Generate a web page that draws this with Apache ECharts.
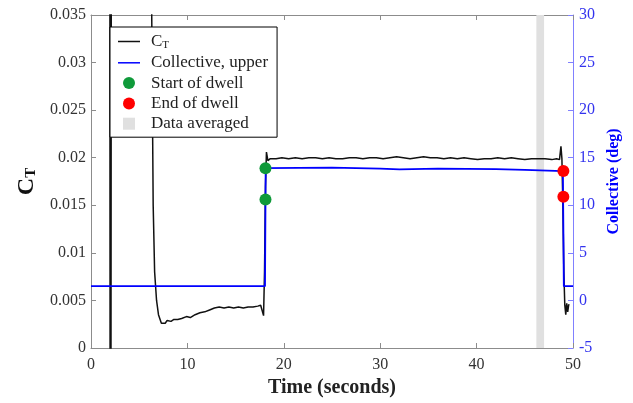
<!DOCTYPE html>
<html>
<head>
<meta charset="utf-8">
<script src="https://cdn.jsdelivr.net/npm/echarts@6/dist/echarts.min.js"></script>
<style>
html,body{margin:0;padding:0;background:#fff;}
#chart{width:633px;height:403px;}
</style>
</head>
<body>
<div id="chart"></div>
<script>
// ---- Data ----
const ctTime = [1.95,1.98,2.03,2.07,2.12,6.2,6.3,6.45,6.6,6.8,7.0,7.3,7.5,7.7,7.9,8.3,8.6,9.0,9.4,9.9,10.3,10.8,11.3,11.8,12.3,12.8,13.3,13.8,14.3,14.8,15.3,15.8,16.3,16.8,17.3,17.6,17.75,17.9,18.0,18.1,18.2,18.35,18.6,19.2,
  19.8,20.5,21.2,21.9,22.6,23.3,24.0,24.7,25.4,26.1,26.8,27.5,28.2,28.9,29.6,30.3,31.0,31.7,32.4,33.1,33.8,34.5,35.2,35.9,36.6,37.3,38.0,38.7,39.4,40.1,40.8,41.5,42.2,42.9,43.6,44.3,45.0,45.7,46.4,47.1,47.8,48.3,48.6,48.75,48.85,48.95,49.05,49.15,49.25,49.35,49.45,49.55,49.6];
const ctValue = [0.06,-0.005,0.06,-0.005,0.06,0.06,0.035,0.015,0.008,0.005,0.0035,0.0026,0.0024,0.0026,0.0029,0.0028,0.0030,0.0030,0.0031,0.0033,0.0032,0.0035,0.0037,0.0038,0.0040,0.0042,0.0043,0.0042,0.0043,0.0042,0.0043,0.0042,0.0043,0.0043,0.0044,0.0045,0.0043,0.0034,0.0080,0.0170,0.0206,0.0197,0.0199,0.0199,
  0.0200,0.0199,0.0200,0.0199,0.0200,0.0200,0.0199,0.0200,0.0199,0.0199,0.0200,0.0200,0.0199,0.0200,0.0200,0.0199,0.0200,0.0201,0.0200,0.0199,0.0200,0.0201,0.0200,0.0200,0.0199,0.0200,0.0199,0.0200,0.0199,0.0198,0.0199,0.0199,0.0200,0.0199,0.0200,0.0199,0.0198,0.0199,0.0199,0.0199,0.0198,0.0199,0.0198,0.0212,0.0199,0.0150,0.0080,0.0045,0.0035,0.0047,0.0038,0.0045,0.0046];

const collTime  = [0, 18.05, 18.12, 25, 30, 32, 36, 42, 45, 48.95, 49.05, 50];
const collValue = [1.5, 1.5, 13.9, 13.95, 13.85, 13.78, 13.85, 13.8, 13.72, 13.6, 1.5, 1.5];

const startTime  = [18.1, 18.1];
const startValue = [13.9, 10.6];
const endTime    = [49.0, 49.0];
const endValue   = [13.6, 10.9];

const avgRange = [46.2, 47.0];

const xTicks = [0, 10, 20, 30, 40, 50];
const seriesNames = ['C_T', 'Collective, upper', 'Start of dwell', 'End of dwell', 'Data averaged'];

// ---- Build ----
const zip = (a, b) => a.map((v, i) => [v, b[i]]);
const FONT = '"Liberation Serif", "Times New Roman", serif';
const chart = echarts.init(document.getElementById('chart'), null, {renderer: 'canvas'});

const LINE_ICON = 'path://M0,0H44V3H0Z';

const option = {
  animation: false,
  backgroundColor: '#fff',
  grid: {left: 91, right: 60, top: 15, bottom: 55, containLabel: false},
  legend: {
    orient: 'vertical',
    left: 110, top: 27,
    padding: [6, 9, 5, 8],
    itemGap: 3.3,
    itemWidth: 22, itemHeight: 12,
    borderColor: '#000', borderWidth: 1,
    backgroundColor: '#fff',
    symbolKeepAspect: true,
    textStyle: {
      fontFamily: FONT, fontSize: 17, color: '#222', lineHeight: 16, padding: [0, 0, 0, 6],
      rich: {
        m: {fontFamily: FONT, fontSize: 17, color: '#222'},
        s: {fontFamily: FONT, fontSize: 11, color: '#222', padding: [8, 0, 0, 0]}
      }
    },
    formatter: function (n) { return n === 'C_T' ? '{m|C}{s|T}' : n; },
    data: [
      {name: seriesNames[0], icon: LINE_ICON},
      {name: seriesNames[1], icon: LINE_ICON},
      {name: seriesNames[2], icon: 'circle'},
      {name: seriesNames[3], icon: 'circle'},
      {name: seriesNames[4], icon: 'path://M0,0H10V10H0Z', itemStyle: {color: '#e0e0e0'}}
    ]
  },
  xAxis: [{
    type: 'value', min: 0, max: 50, interval: 10, position: 'bottom',
    name: 'Time (seconds)', nameLocation: 'middle', nameGap: 27,
    nameTextStyle: {fontFamily: FONT, fontSize: 20, fontWeight: 'bold', color: '#222'},
    axisLine: {lineStyle: {color: '#8c8c8c', width: 1}},
    axisTick: {inside: true, length: 5, lineStyle: {color: '#8c8c8c'}},
    axisLabel: {fontFamily: FONT, fontSize: 16, color: '#333', margin: 9,
      formatter: v => xTicks.includes(v) ? String(v) : ''},
    splitLine: {show: false}
  }, {
    type: 'value', min: 0, max: 50, interval: 10, position: 'top',
    axisLine: {onZero: false, lineStyle: {color: '#8c8c8c', width: 1}},
    axisTick: {inside: true, length: 5, lineStyle: {color: '#8c8c8c'}},
    axisLabel: {show: false},
    splitLine: {show: false}
  }],
  yAxis: [{
    type: 'value', min: 0, max: 0.035, interval: 0.005, position: 'left',
    name: '{m|C}{s|T}', nameLocation: 'middle', nameGap: 52, nameRotate: 90,
    nameTextStyle: {
      fontFamily: FONT, fontSize: 24, fontWeight: 'bold', color: '#111',
      rich: {
        m: {fontFamily: FONT, fontSize: 24, fontWeight: 'bold', color: '#111'},
        s: {fontFamily: FONT, fontSize: 15, fontWeight: 'bold', color: '#111', padding: [10, 0, 0, 0]}
      }
    },
    axisLine: {show: true, onZero: false, lineStyle: {color: '#8c8c8c', width: 1}},
    axisTick: {show: true, inside: true, length: 5, lineStyle: {color: '#8c8c8c'}},
    axisLabel: {fontFamily: FONT, fontSize: 16, color: '#333', margin: 5},
    splitLine: {show: false}
  }, {
    type: 'value', min: -5, max: 30, interval: 5, position: 'right',
    name: 'Collective (deg)', nameLocation: 'middle', nameGap: 33, nameRotate: 90,
    nameTextStyle: {fontFamily: FONT, fontSize: 16, fontWeight: 'bold', color: '#0000ff'},
    axisLine: {show: true, onZero: false, lineStyle: {color: '#8080ff', width: 1}},
    axisTick: {show: true, inside: true, length: 5, lineStyle: {color: '#8080ff'}},
    axisLabel: {fontFamily: FONT, fontSize: 16, color: '#3333ee', margin: 6},
    splitLine: {show: false}
  }],
  series: [
    {
      name: seriesNames[4], type: 'line', xAxisIndex: 0, yAxisIndex: 0, data: [],
      itemStyle: {color: '#e0e0e0'},
      markArea: {silent: true, itemStyle: {color: '#e0e0e0'},
        data: [[{xAxis: avgRange[0]}, {xAxis: avgRange[1]}]]}
    },
    {
      name: seriesNames[0], type: 'line', xAxisIndex: 0, yAxisIndex: 0, z: 3,
      data: zip(ctTime, ctValue), symbol: 'none', clip: true,
      lineStyle: {color: '#111', width: 1.5}, itemStyle: {color: '#111'}
    },
    {
      name: seriesNames[1], type: 'line', xAxisIndex: 0, yAxisIndex: 1, z: 4,
      data: zip(collTime, collValue), symbol: 'none', clip: true,
      lineStyle: {color: '#0000ff', width: 1.8}, itemStyle: {color: '#0000ff'}
    },
    {
      name: seriesNames[2], type: 'scatter', xAxisIndex: 0, yAxisIndex: 1, z: 5,
      data: zip(startTime, startValue), symbolSize: 12,
      itemStyle: {color: '#0f9a3a', opacity: 1}
    },
    {
      name: seriesNames[3], type: 'scatter', xAxisIndex: 0, yAxisIndex: 1, z: 5,
      data: zip(endTime, endValue), symbolSize: 12,
      itemStyle: {color: '#ff0000', opacity: 1}
    }
  ]
};
chart.setOption(option);
</script>
</body>
</html>
